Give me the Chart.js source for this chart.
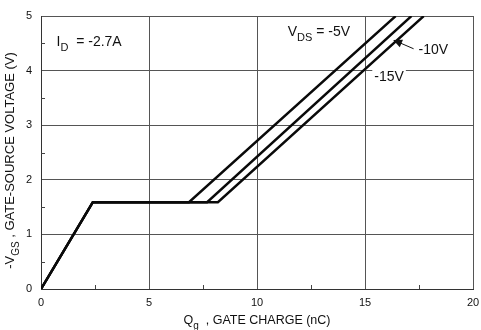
<!DOCTYPE html>
<html>
<head>
<meta charset="utf-8">
<script src="https://cdn.jsdelivr.net/npm/chart.js@4/dist/chart.umd.min.js"></script>
<style>
  html, body { margin: 0; padding: 0; background: #fff; }
  #wrap { width: 481px; height: 330px; }
</style>
</head>
<body>
<div id="wrap"><canvas id="myChart" width="481" height="330"></canvas></div>
<script>
// gate charge (nC) and -VGS (V) for each drain voltage
const q5 = [0, 2.4, 6.85, 16.42];
const v5 = [0, 1.59, 1.59, 5];
const q10 = [0, 2.4, 7.69, 17.15];
const v10 = [0, 1.59, 1.59, 5];
const q15 = [0, 2.4, 8.19, 17.72];
const v15 = [0, 1.59, 1.59, 5];

const xTicks = [0, 5, 10, 15, 20];
const yTicks = [0, 1, 2, 3, 4, 5];
const xMinor = [2.5, 7.5, 12.5, 17.5];
const yMinor = [0.5, 1.5, 2.5, 3.5, 4.5];

const toPoints = (xs, ys) => xs.map((x, i) => ({ x: x, y: ys[i] }));

const FONT = "'Liberation Sans', Arial, Helvetica, sans-serif";

// draws text pieces, some as subscripts, starting at x
const drawPieces = (ctx, pieces, x, y, size, subSize) => {
  let cx = x;
  pieces.forEach((p) => {
    ctx.font = (p.sub ? subSize : size) + "px " + FONT;
    ctx.fillText(p.t, cx, p.sub ? y + size * 0.45 : y);
    cx += ctx.measureText(p.t).width;
  });
};

const piecesWidth = (ctx, pieces, size, subSize) => {
  let w = 0;
  pieces.forEach((p) => {
    ctx.font = (p.sub ? subSize : size) + "px " + FONT;
    w += ctx.measureText(p.t).width;
  });
  return w;
};

const extras = {
  id: "extras",
  afterDraw(chart) {
    const ctx = chart.ctx;
    const xs = chart.scales.x;
    const ys = chart.scales.y;
    const area = chart.chartArea;
    ctx.save();

    // minor ticks
    ctx.strokeStyle = "#444";
    ctx.lineWidth = 1;
    xMinor.forEach((v) => {
      const px = Math.round(xs.getPixelForValue(v)) + 0.5;
      ctx.beginPath();
      ctx.moveTo(px, area.bottom);
      ctx.lineTo(px, area.bottom - 4);
      ctx.stroke();
    });
    yMinor.forEach((v) => {
      const py = Math.round(ys.getPixelForValue(v)) + 0.5;
      ctx.beginPath();
      ctx.moveTo(area.left, py);
      ctx.lineTo(area.left + 4, py);
      ctx.stroke();
    });

    ctx.fillStyle = "#111";
    ctx.textBaseline = "middle";
    ctx.textAlign = "left";

    // I_D label
    drawPieces(ctx, [{ t: "I" }, { t: "D", sub: true }, { t: "  = -2.7A" }],
      xs.getPixelForValue(0.72), ys.getPixelForValue(4.53), 14, 11);

    // V_DS label
    drawPieces(ctx, [{ t: "V" }, { t: "DS", sub: true }, { t: " = -5V" }],
      xs.getPixelForValue(11.42), ys.getPixelForValue(4.71), 14, 11);

    // -10V with arrow
    ctx.font = "14px " + FONT;
    ctx.fillText("-10V", xs.getPixelForValue(17.48), ys.getPixelForValue(4.37));
    const ax0 = xs.getPixelForValue(17.25), ay0 = ys.getPixelForValue(4.4);
    const ax1 = xs.getPixelForValue(16.43), ay1 = ys.getPixelForValue(4.54);
    ctx.strokeStyle = "#111";
    ctx.lineWidth = 1;
    ctx.beginPath();
    ctx.moveTo(ax0, ay0);
    ctx.lineTo(ax1, ay1);
    ctx.stroke();
    const ang = Math.atan2(ay1 - ay0, ax1 - ax0);
    ctx.beginPath();
    ctx.moveTo(ax1 + Math.cos(ang) * 3, ay1 + Math.sin(ang) * 3);
    ctx.lineTo(ax1 - Math.cos(ang) * 6 + Math.sin(ang) * 4, ay1 - Math.sin(ang) * 6 - Math.cos(ang) * 4);
    ctx.lineTo(ax1 - Math.cos(ang) * 6 - Math.sin(ang) * 4, ay1 - Math.sin(ang) * 6 + Math.cos(ang) * 4);
    ctx.closePath();
    ctx.fill();

    // -15V with white background over the grid line
    const lx = xs.getPixelForValue(15.43), ly = ys.getPixelForValue(3.88);
    const lw = ctx.measureText("-15V").width;
    ctx.fillStyle = "#fff";
    ctx.fillRect(lx - 2, ly - 8, lw + 4, 15);
    ctx.fillStyle = "#111";
    ctx.fillText("-15V", lx, ly);

    // x axis title
    const xp = [{ t: "Q" }, { t: "g", sub: true }, { t: "  , GATE CHARGE (nC)" }];
    const xw = piecesWidth(ctx, xp, 12.5, 10);
    drawPieces(ctx, xp, (area.left + area.right) / 2 - xw / 2, 321, 12.5, 10);

    // y axis title
    ctx.translate(12, (area.top + area.bottom) / 2 + 8);
    ctx.rotate(-Math.PI / 2);
    const yp = [{ t: "-V" }, { t: "GS", sub: true }, { t: " , GATE-SOURCE VOLTAGE (V)" }];
    const yw = piecesWidth(ctx, yp, 13, 10);
    drawPieces(ctx, yp, -yw / 2, -2, 13, 10);
    ctx.restore();
  },
};

const lineStyle = {
  showLine: true,
  borderColor: "#0a0a0a",
  borderWidth: 2.4,
  pointRadius: 0,
  fill: false,
  tension: 0,
};

const ctx = document.getElementById("myChart").getContext("2d");

const chart = new Chart(ctx, {
  type: "scatter",
  data: {
    datasets: [
      Object.assign({ label: "-5V", data: toPoints(q5, v5) }, lineStyle),
      Object.assign({ label: "-10V", data: toPoints(q10, v10) }, lineStyle),
      Object.assign({ label: "-15V", data: toPoints(q15, v15) }, lineStyle),
    ],
  },
  options: {
    responsive: false,
    animation: false,
    layout: { padding: { top: 16, right: 8, left: 0, bottom: 0 } },
    plugins: {
      legend: { display: false },
      tooltip: { enabled: false },
    },
    scales: {
      x: {
        type: "linear",
        min: 0,
        max: 20,
        afterBuildTicks: (scale) => {
          scale.ticks = xTicks.map((v) => ({ value: v }));
        },
        afterFit: (scale) => {
          scale.height = 41;
          scale.paddingLeft = 0;
          scale.paddingRight = 0;
        },
        grid: { color: "#555", lineWidth: 1, drawTicks: false },
        border: { display: true, color: "#333", width: 1 },
        ticks: {
          padding: 7,
          color: "#111",
          font: { family: FONT, size: 11 },
          maxRotation: 0,
        },
      },
      y: {
        type: "linear",
        min: 0,
        max: 5,
        afterBuildTicks: (scale) => {
          scale.ticks = yTicks.map((v) => ({ value: v }));
        },
        afterFit: (scale) => {
          scale.width = 41;
          scale.paddingTop = 0;
          scale.paddingBottom = 0;
        },
        grid: { color: "#555", lineWidth: 1, drawTicks: false },
        border: { display: true, color: "#333", width: 1 },
        ticks: {
          padding: 9,
          color: "#111",
          font: { family: FONT, size: 11 },
        },
      },
    },
  },
  plugins: [extras],
});
</script>
</body>
</html>
